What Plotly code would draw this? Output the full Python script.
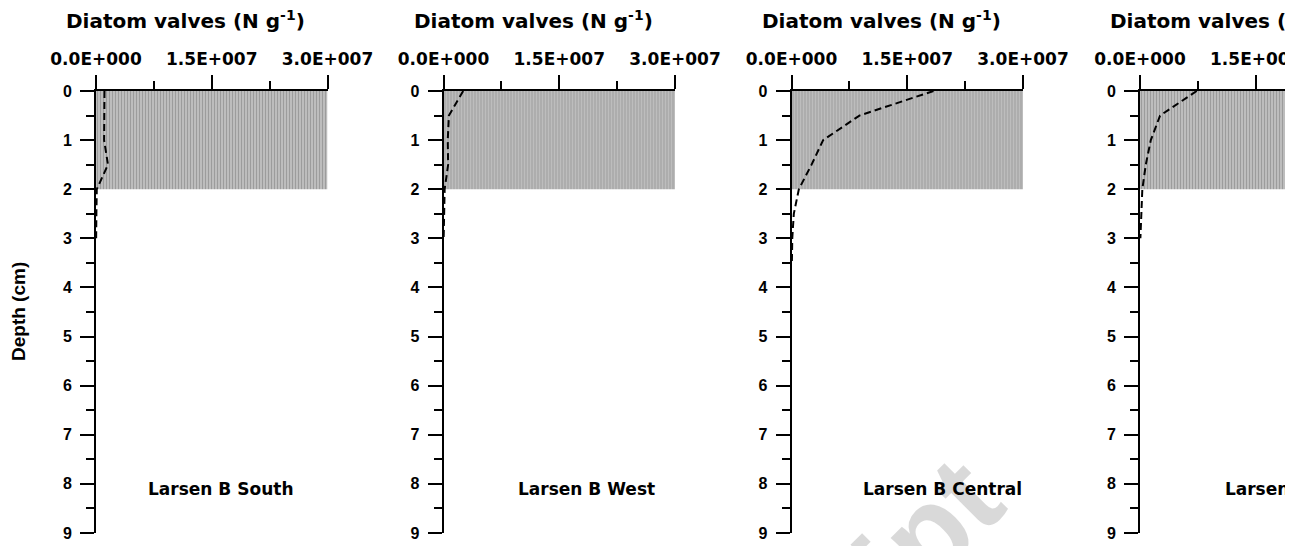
import plotly.graph_objects as go

# ---------------- data ----------------
site_names = ["Larsen B South", "Larsen B West", "Larsen B Central", "Larsen B North"]

depth_south = [0, 0.5, 1, 1.5, 2, 2.5, 3]
valves_south = [1.10e6, 1.05e6, 1.05e6, 1.55e6, 0.10e6, 0.05e6, 0.02e6]

depth_west = [0, 0.5, 1, 1.5, 2, 2.5, 3]
valves_west = [2.55e6, 0.70e6, 0.55e6, 0.60e6, 0.15e6, 0.05e6, 0.02e6]

depth_central = [0, 0.5, 1, 1.5, 2, 2.5, 3, 3.5]
valves_central = [18.4e6, 8.8e6, 4.1e6, 2.6e6, 0.95e6, 0.30e6, 0.10e6, 0.05e6]

depth_north = [0, 0.5, 1, 1.5, 2, 2.5, 3]
valves_north = [7.35e6, 2.6e6, 1.4e6, 0.75e6, 0.30e6, 0.15e6, 0.05e6]

# shaded depth interval (cm) and its x extent
band_top = 0
band_bottom = 2
band_xmax = 3.0e7

x_tickvals = [0, 1.5e7, 3.0e7]
x_ticktext = ["0.0E+000", "1.5E+007", "3.0E+007"]
y_tickvals = [0, 1, 2, 3, 4, 5, 6, 7, 8, 9]

x_title = "Diatom valves (N g<sup>-1</sup>)"
y_title = "Depth (cm)"
watermark = "Accepted Manuscript"

# ---------------- layout geometry (pixels) ----------------
W, H = 1285, 546
axis_left_px = [96, 443.5, 791.5, 1140]
axis_width_px = 231.5
plot_top_px, plot_bottom_px = 91, 533
label_x_pos = [6.74e6, 9.65e6, 9.27e6, 11.0e6]
label_depth = 8.13

profiles = [
    (depth_south, valves_south),
    (depth_west, valves_west),
    (depth_central, valves_central),
    (depth_north, valves_north),
]

HFONT = "DejaVu Sans"
VFONT = "Liberation Sans"

fig = go.Figure()
annotations = []
for i, (dep, val) in enumerate(profiles):
    n = "" if i == 0 else str(i + 1)
    xa, ya = "x" + n, "y" + n
    left = axis_left_px[i]
    right = min(left + axis_width_px, W)
    xmax = band_xmax * (right - left) / axis_width_px

    fig.add_trace(go.Bar(
        orientation="h",
        y=[(band_top + band_bottom) / 2], x=[band_xmax], base=[0],
        width=[band_bottom - band_top],
        marker=dict(color="#bdbdbd", line=dict(width=0),
                    pattern=dict(shape="|", fgcolor="#9c9c9c", bgcolor="#bdbdbd",
                                 size=3, solidity=0.35, fillmode="replace")),
        xaxis=xa, yaxis=ya, showlegend=False, hoverinfo="skip",
    ))
    fig.add_trace(go.Scatter(
        x=val, y=dep, mode="lines",
        line=dict(color="black", width=2, dash="7px,4px"),
        xaxis=xa, yaxis=ya, showlegend=False,
    ))
    fig.add_trace(go.Scatter(
        x=[label_x_pos[i]], y=[label_depth], mode="text", text=[site_names[i]],
        textposition="middle right",
        textfont=dict(family=HFONT, size=17, color="black", weight="bold"),
        xaxis=xa, yaxis=ya, showlegend=False, hoverinfo="skip",
    ))

    fig.layout["xaxis" + n] = dict(
        domain=[left / W, right / W], range=[0, xmax], anchor=ya, side="top",
        automargin=False, ticklabeloverflow="allow",
        showline=True, linecolor="black", linewidth=2, mirror=False,
        ticks="outside", ticklen=14, tickwidth=2, tickcolor="black",
        tickmode="array", tickvals=x_tickvals, ticktext=x_ticktext,
        tickfont=dict(family=HFONT, size=17, color="black", weight="bold"),
        ticklabelstandoff=3,
        minor=dict(tickmode="linear", tick0=0, dtick=7.5e6, ticks="outside",
                   ticklen=8, tickwidth=2, tickcolor="black"),
        showgrid=False, zeroline=False, fixedrange=True,
    )
    fig.layout["yaxis" + n] = dict(
        domain=[1 - plot_bottom_px / H, 1 - plot_top_px / H], range=[9, 0], anchor=xa,
        automargin=False, ticklabeloverflow="allow",
        showline=True, linecolor="black", linewidth=2,
        ticks="outside", ticklen=14, tickwidth=2, tickcolor="black",
        tickmode="array", tickvals=y_tickvals,
        tickfont=dict(family=VFONT, size=16, color="black", weight="bold"),
        ticklabelstandoff=5,
        minor=dict(tickmode="linear", tick0=0, dtick=0.5, ticks="outside",
                   ticklen=8, tickwidth=2, tickcolor="black"),
        showgrid=False, zeroline=False, fixedrange=True,
    )
    annotations.append(dict(
        text=x_title, x=(left + 89.5) / W, y=1 - 20 / H, xref="paper", yref="paper",
        xanchor="center", yanchor="middle", showarrow=False,
        font=dict(family=HFONT, size=20, color="black", weight="bold"),
    ))

annotations.append(dict(
    text=y_title, x=18 / W, y=1 - 312 / H, xref="paper", yref="paper",
    xanchor="center", yanchor="middle", showarrow=False, textangle=-90,
    font=dict(family=VFONT, size=19, color="black", weight="bold"),
))

# faint diagonal watermark, almost entirely below the visible area
annotations.append(dict(
    text=watermark, x=550.7 / W, y=1 - 907.7 / H, xref="paper", yref="paper",
    xanchor="center", yanchor="middle", showarrow=False, textangle=-45,
    font=dict(family=VFONT, size=120, color="rgba(0,0,0,0.15)", weight="bold"),
))

fig.update_layout(
    template="none",
    width=W, height=H, margin=dict(l=0, r=0, t=0, b=0, pad=0, autoexpand=False),
    paper_bgcolor="white", plot_bgcolor="rgba(0,0,0,0)",
    barmode="overlay", annotations=annotations, showlegend=False,
)

fig.write_html(
    "out.html",
    config={"displayModeBar": False},
    post_script="document.body.style.margin='0';document.body.style.overflow='hidden';",
)
